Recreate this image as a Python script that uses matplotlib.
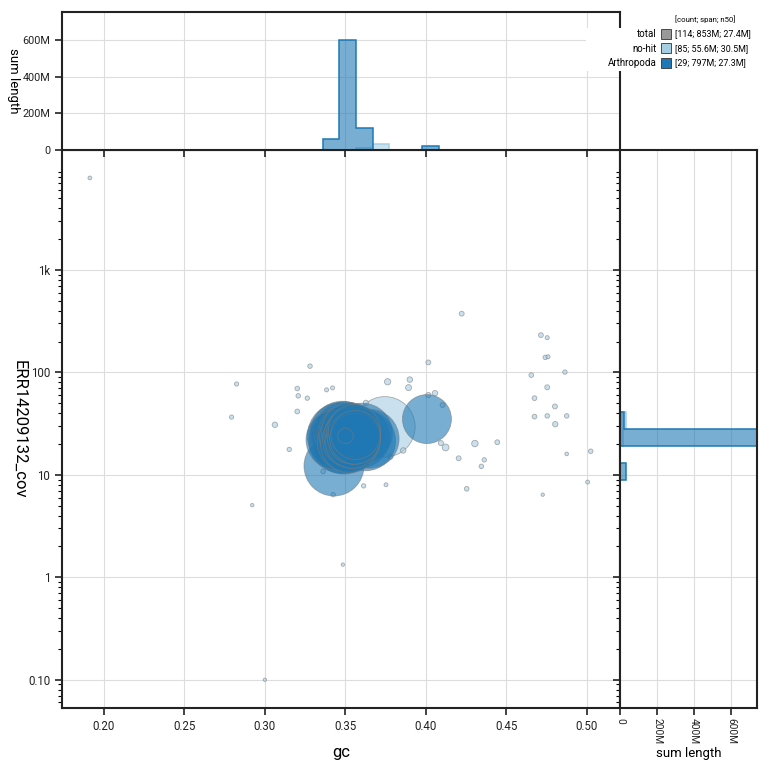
import numpy as np
import matplotlib
matplotlib.use("Agg")
import matplotlib.pyplot as plt
from matplotlib.patches import Rectangle
from matplotlib.ticker import FuncFormatter

plt.rcParams['font.family'] = ['Roboto', 'DejaVu Sans']

# ---- data -------------------------------------------------------------
categories = ['total', 'no-hit', 'Arthropoda']
cat_colors = ['#999999', '#a6cee3', '#1f78b4']
cat_stats = ['[114; 853M; 27.4M]', '[85; 55.6M; 30.5M]', '[29; 797M; 27.3M]']

# no-hit contigs (gc, coverage, length)
nohit_gc = [0.1913, 0.2824, 0.2793, 0.3062, 0.3151, 0.2921, 0.3201, 0.3207, 0.3201, 0.300,
            0.3484, 0.3280, 0.3263, 0.3383, 0.3420, 0.3762, 0.3900, 0.3892, 0.4015, 0.3627,
            0.4056, 0.4015, 0.4103, 0.4093, 0.4122, 0.4203, 0.4253, 0.4304, 0.3752, 0.3613,
            0.3424, 0.3362, 0.3859, 0.3780, 0.4222, 0.4443, 0.4362, 0.4344, 0.4714, 0.4753,
            0.4741, 0.4758, 0.4863, 0.4654, 0.4753, 0.4674, 0.4801, 0.4674, 0.4753, 0.4874,
            0.4803, 0.4874, 0.5023, 0.5004, 0.4725,
            # hidden under the main cluster
            0.341, 0.343, 0.345, 0.346, 0.347, 0.348, 0.349, 0.350, 0.351, 0.352,
            0.353, 0.354, 0.355, 0.356, 0.357, 0.358, 0.359, 0.360, 0.361, 0.362,
            0.363, 0.364, 0.366, 0.368, 0.344, 0.350, 0.355, 0.360,
            # two large ones
            0.3745, 0.3620]
nohit_cov = [7900, 77, 36.6, 30.8, 17.7, 5.06, 69.6, 59, 41.5, 0.1,
             1.33, 115, 56, 67.5, 70.5, 81, 85, 71, 125, 50.5,
             62.6, 60, 48, 20.4, 18.5, 14.5, 7.3, 20.2, 8.0, 7.8,
             6.4, 10.8, 17.3, 15.0, 374, 20.8, 14.0, 12.1, 231, 218,
             140, 142, 100.6, 94, 71.5, 56, 46.5, 37, 37.6, 37.6,
             31.2, 16.0, 17.0, 8.5, 6.4,
             22, 25, 18, 27, 21, 24, 19, 26, 23, 22,
             25, 20, 24, 21, 26, 23, 22, 25, 20, 24,
             21, 23, 22, 25, 28, 17, 30, 19,
             29.4, 23]
nohit_len = [120e3, 150e3, 150e3, 250e3, 160e3, 70e3, 180e3, 170e3, 190e3, 60e3,
             70e3, 170e3, 160e3, 140e3, 140e3, 330e3, 260e3, 300e3, 200e3, 220e3,
             250e3, 230e3, 200e3, 220e3, 380e3, 200e3, 180e3, 350e3, 130e3, 160e3,
             160e3, 190e3, 250e3, 200e3, 200e3, 200e3, 160e3, 170e3, 190e3, 140e3,
             170e3, 140e3, 160e3, 180e3, 200e3, 190e3, 200e3, 190e3, 170e3, 170e3,
             240e3, 110e3, 170e3, 130e3, 90e3,
             90e3, 100e3, 80e3, 120e3, 90e3, 110e3, 100e3, 80e3, 120e3, 90e3,
             100e3, 110e3, 80e3, 90e3, 120e3, 100e3, 90e3, 110e3, 80e3, 100e3,
             90e3, 120e3, 100e3, 90e3, 110e3, 80e3, 100e3, 90e3,
             30.5e6, 11.1e6]

# Arthropoda contigs
arth_gc = [0.3429, 0.3440,
           0.3470, 0.3475, 0.3480, 0.3485, 0.3490, 0.3495, 0.3500, 0.3505, 0.3510, 0.3515,
           0.3520, 0.3525, 0.3530, 0.3535, 0.3540, 0.3545, 0.3550, 0.3553, 0.3556, 0.3560,
           0.3563,
           0.3585, 0.3605, 0.3625, 0.3650,
           0.4006, 0.3500]
arth_cov = [12.2, 22.0,
            24.0, 21.5, 25.5, 23.0, 20.5, 26.0, 22.5, 24.5, 21.0, 25.0,
            23.5, 20.0, 26.5, 22.0, 24.0, 21.5, 25.5, 23.0, 27.0, 22.5,
            24.5,
            23.0, 25.5, 21.5, 22.5,
            35.0, 24.0]
arth_len = [30.0e6, 29.5e6,
            36.7e6, 35.3e6, 34.0e6, 33.4e6, 32.2e6, 31.3e6, 30.6e6, 29.9e6, 29.3e6, 28.7e6,
            28.1e6, 27.8e6, 27.4e6, 26.7e6, 26.0e6, 25.3e6, 24.6e6, 23.7e6, 22.9e6, 21.5e6,
            20.1e6,
            31.0e6, 30.0e6, 30.0e6, 29.0e6,
            20.0e6, 2.0e6]

# ---- figure -----------------------------------------------------------
fig = plt.figure(figsize=(7.7, 7.7), dpi=100)
W = 770.0
ax = fig.add_axes([62 / W, 62 / W, 558 / W, 558 / W])
axt = fig.add_axes([62 / W, 620 / W, 558 / W, 138 / W], sharex=ax)
axr = fig.add_axes([620 / W, 62 / W, 137 / W, 558 / W], sharey=ax)

k = 1866.0 / 30e6  # marker area per bp

for gcs, covs, lens, col in [(nohit_gc, nohit_cov, nohit_len, cat_colors[1]),
                             (arth_gc, arth_cov, arth_len, cat_colors[2])]:
    gcs = np.array(gcs); covs = np.array(covs); lens = np.array(lens)
    order = np.argsort(-lens)
    sizes = np.maximum(lens[order] * k, 6)
    ax.scatter(gcs[order], covs[order], s=sizes, c=col, alpha=0.6,
               edgecolors='#7a7a7a', linewidths=0.6, zorder=3)

ax.set_yscale('log')
ax.set_xlim(0.174, 0.5205)
ax.set_ylim(0.053, 14800)
ax.set_xticks([0.20, 0.25, 0.30, 0.35, 0.40, 0.45, 0.50])
ax.set_xticklabels(['0.20', '0.25', '0.30', '0.35', '0.40', '0.45', '0.50'])
ax.set_yticks([0.1, 1, 10, 100, 1000])
ax.set_yticklabels(['0.10', '1', '10', '100', '1k'])
ax.grid(True, color='#dddddd', linewidth=0.8, zorder=0)
ax.set_axisbelow(True)
ax.set_xlabel('gc', fontsize=12)
ax.xaxis.set_label_coords(0.5, -37 / 558)
ax.set_ylabel('ERR14209132_cov', fontsize=12, rotation=270, va='center', ha='center')
ax.yaxis.set_label_coords(-43 / 558, 0.5)

# histograms
gc_bins = 0.1712 + 0.0103 * np.arange(0, 35)
cov_bins = 10 ** (-1.207 + 0.166 * np.arange(0, 35))
for gcs, covs, lens, col in [(nohit_gc, nohit_cov, nohit_len, cat_colors[1]),
                             (arth_gc, arth_cov, arth_len, cat_colors[2])]:
    axt.hist(gcs, bins=gc_bins, weights=lens, histtype='stepfilled',
             facecolor=matplotlib.colors.to_rgba(col, 0.6), edgecolor=col, linewidth=1.1, zorder=2)
    axr.hist(covs, bins=cov_bins, weights=lens, histtype='stepfilled', orientation='horizontal',
             facecolor=matplotlib.colors.to_rgba(col, 0.6), edgecolor=col, linewidth=1.1, zorder=2)

mfmt = FuncFormatter(lambda v, p: '0' if v == 0 else '%dM' % round(v / 1e6))
axt.set_ylim(0, 752e6)
axt.set_yticks([0, 200e6, 400e6, 600e6])
axt.yaxis.set_major_formatter(mfmt)
axt.grid(True, color='#dddddd', linewidth=0.8, zorder=0)
axt.set_axisbelow(True)
axt.tick_params(axis='x', labelbottom=False)

axr.set_xlim(0, 740e6)
axr.set_xticks([0, 200e6, 400e6, 600e6])
axr.xaxis.set_major_formatter(mfmt)
axr.grid(True, color='#dddddd', linewidth=0.8, zorder=0)
axr.set_axisbelow(True)
axr.tick_params(axis='y', labelleft=False, which='both')

for a in (ax, axt, axr):
    a.tick_params(labelsize=8.3, width=1.2, length=5, color='#222222', labelcolor='#222222')
    a.tick_params(which='minor', width=0.8, length=3)
    for sp in a.spines.values():
        sp.set_linewidth(1.5)
        sp.set_color('#222222')
        sp.set_zorder(4)

axt.tick_params(axis='y', labelsize=7.8)
axt.set_ylabel('sum length', fontsize=9.5, rotation=270, va='center', ha='center')
axt.yaxis.set_label_coords(-49 / 558, 0.5)

axr.tick_params(axis='x', labelrotation=270, labelsize=7.3, pad=2.5)
axr.set_xlabel('sum length', fontsize=9.5, va='center')
axr.xaxis.set_label_coords(0.5, -46 / 558)

# legend
fig.patches.append(Rectangle((586 / W, 1 - 71 / W), 184 / W, 43 / W, transform=fig.transFigure,
                             facecolor='white', edgecolor='none', zorder=5))
fig.text(675 / W, 1 - 19 / W, '[count; span; n50]', fontsize=5.6, va='center', ha='left', zorder=6)
for i, (lab, col, st) in enumerate(zip(categories, cat_colors, cat_stats)):
    yc = 1 - (34 + 14.5 * i) / W
    fig.text(657 / W, yc, lab, fontsize=7, ha='right', va='center', zorder=6)
    fig.patches.append(Rectangle((661 / W, yc - 5 / W), 10 / W, 10 / W, transform=fig.transFigure,
                                 facecolor=col, edgecolor='#333333', linewidth=0.6, zorder=6))
    fig.text(675 / W, yc, st, fontsize=6.4, ha='left', va='center', zorder=6)

fig.savefig('out.png', dpi=100)
